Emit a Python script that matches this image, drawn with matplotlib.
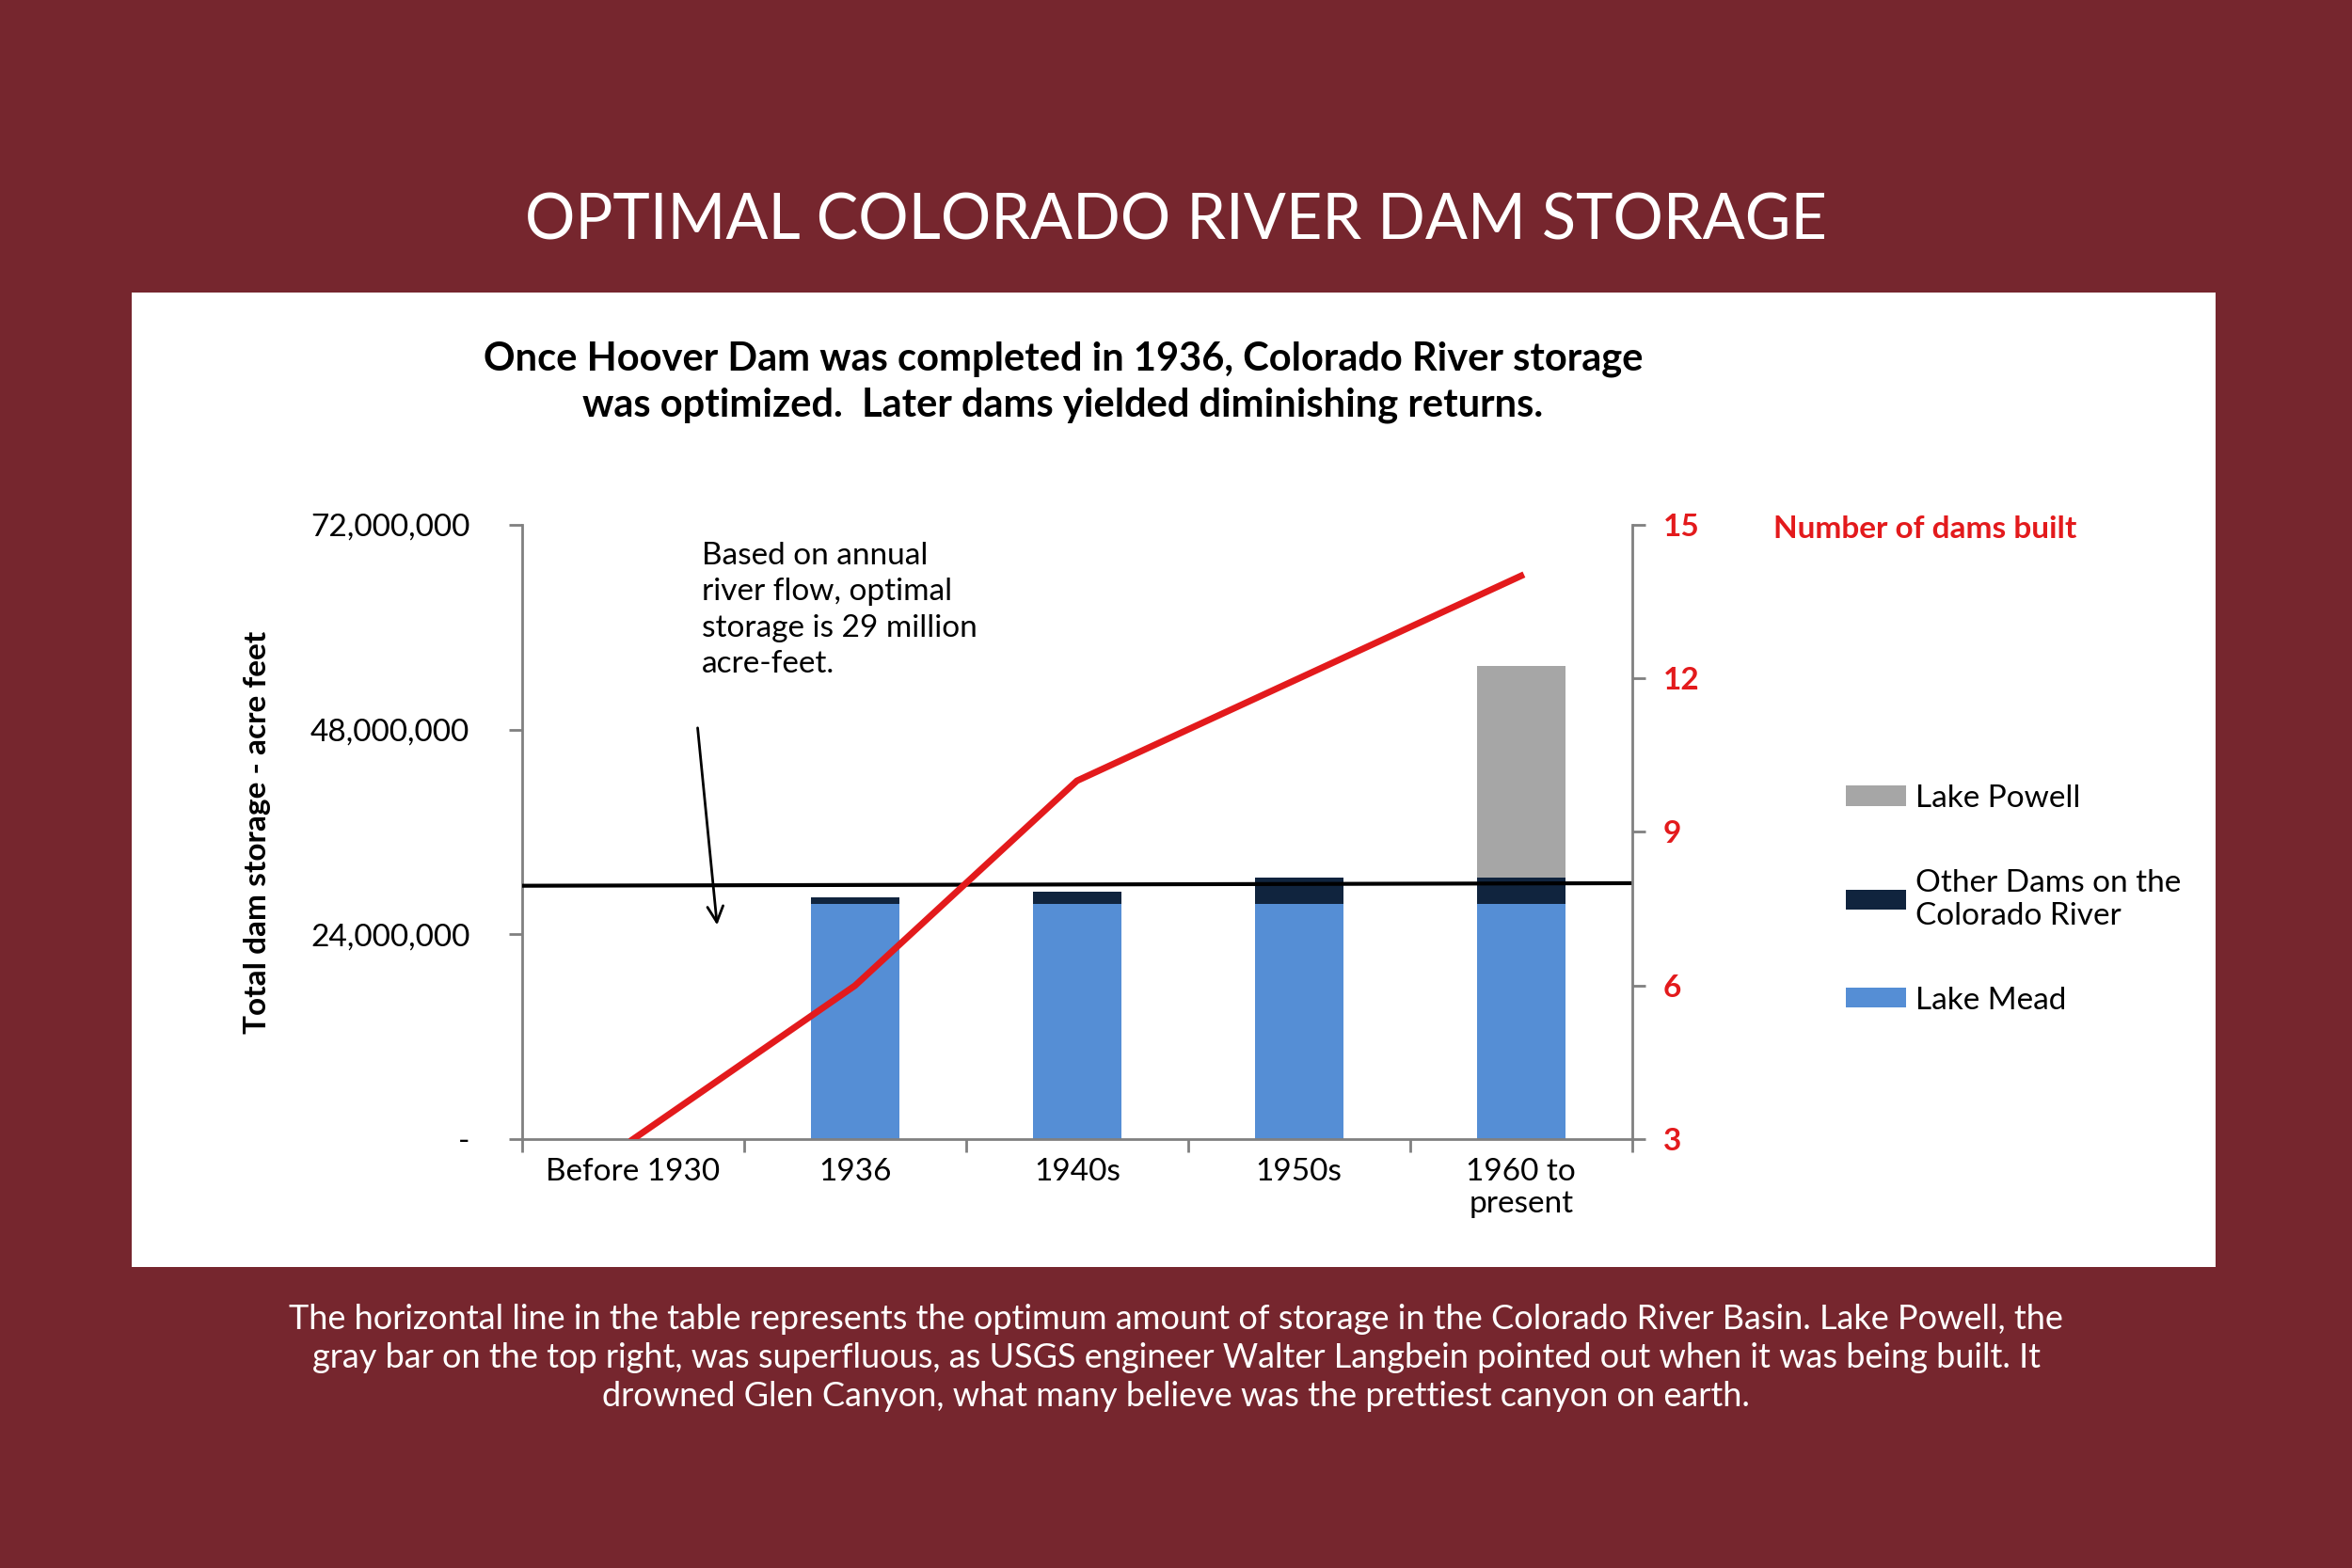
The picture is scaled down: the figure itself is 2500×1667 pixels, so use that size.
import matplotlib.pyplot as plt
from matplotlib.patches import Rectangle
import numpy as np

categories = ['Before 1930', '1936', '1940s', '1950s', '1960 to\npresent']
lake_mead = [0, 27.6e6, 27.6e6, 27.6e6, 27.6e6]
other_dams = [0, 0.7e6, 1.4e6, 3.1e6, 3.1e6]
lake_powell = [0, 0, 0, 0, 24.8e6]
dams_built = [3, 6, 10, 12, 14]
optimal_line = [29.7e6, 30.0e6]

bg = '#76262E'
gray = '#808080'
plt.rcParams['font.family'] = ['Lato', 'DejaVu Sans']

fig = plt.figure(figsize=(25, 16.67), dpi=100, facecolor=bg)
fig.patches.append(Rectangle((88/1568, 1-845/1046), (1477-88)/1568, (845-195)/1046,
                             transform=fig.transFigure, facecolor='white', zorder=-10))

fig.text(0.5, 1-148/1046, 'OPTIMAL COLORADO RIVER DAM STORAGE', color='white',
         fontsize=48, ha='center', va='center')
fig.text(0.452, 1-255/1046, 'Once Hoover Dam was completed in 1936, Colorado River storage\n'
         'was optimized.  Later dams yielded diminishing returns.',
         fontsize=30, fontweight='bold', ha='center', va='center', linespacing=1.35)
fig.text(0.5, 1-906/1046,
         'The horizontal line in the table represents the optimum amount of storage in the Colorado River Basin. Lake Powell, the\n'
         'gray bar on the top right, was superfluous, as USGS engineer Walter Langbein pointed out when it was being built. It\n'
         'drowned Glen Canyon, what many believe was the prettiest canyon on earth.',
         color='white', fontsize=26, ha='center', va='center', linespacing=1.3)

ax = fig.add_axes([348/1568, 1-760/1046, 740/1568, 410/1046])
ax.set_facecolor('none')
x = np.arange(len(categories))
w = 0.4
b1 = ax.bar(x, lake_mead, w, color='#558ED5', zorder=2)
b2 = ax.bar(x, other_dams, w, bottom=lake_mead, color='#10243E', zorder=2)
bot = np.array(lake_mead) + np.array(other_dams)
b3 = ax.bar(x, lake_powell, w, bottom=bot, color='#A6A6A6', zorder=2)
ax.plot([-0.5, 4.5], optimal_line, color='black', lw=3, zorder=3)

ax.set_xlim(-0.5, 4.5)
ax.set_ylim(0, 72e6)
ax.set_yticks([0, 24e6, 48e6, 72e6])
ax.set_yticklabels(['-', '24,000,000', '48,000,000', '72,000,000'])
ax.set_xticks(x)
ax.set_xticklabels(categories)
ax.set_xticks(np.arange(-0.5, 5, 1), minor=True)
ax.tick_params(axis='x', which='major', length=0, pad=14, labelsize=24)
ax.tick_params(axis='x', which='minor', length=10, width=2, color=gray)
ax.tick_params(axis='y', length=10, width=2, color=gray, labelsize=24, pad=30)
for s in ['top', 'right']:
    ax.spines[s].set_visible(False)
for s in ['left', 'bottom']:
    ax.spines[s].set_color(gray)
    ax.spines[s].set_linewidth(2)
ax.set_ylabel('Total dam storage - acre feet', fontsize=24, fontweight='bold', labelpad=30)

ax2 = ax.twinx()
ax2.plot(x, dams_built, color='#E31A1C', lw=5, zorder=4)
ax2.set_ylim(3, 15)
ax2.set_yticks([3, 6, 9, 12, 15])
ax2.tick_params(axis='y', length=10, width=2, color=gray, labelsize=24, labelcolor='#E31A1C', pad=14)
for lab in ax2.get_yticklabels():
    lab.set_fontweight('bold')
for s in ['top', 'left', 'bottom']:
    ax2.spines[s].set_visible(False)
ax2.spines['right'].set_color(gray)
ax2.spines['right'].set_linewidth(2)

fig.text(1182/1568, 1-353/1046, 'Number of dams built', color='#E31A1C', fontsize=24,
         fontweight='bold', va='center')

ax.annotate('', xy=(0.38, 24.8e6), xytext=(0.29, 48.5e6),
            arrowprops=dict(arrowstyle='->', color='black', lw=2, mutation_scale=30))
ax.text(0.31, 70e6, 'Based on annual\nriver flow, optimal\nstorage is 29 million\nacre-feet.',
        fontsize=24, va='top', linespacing=1.35)

fig.legend([b3, b2, b1], ['Lake Powell', 'Other Dams on the\nColorado River', 'Lake Mead'],
           loc='center left', bbox_to_anchor=(1212/1568, 1-600/1046), frameon=False,
           fontsize=24, handlelength=1.9, handleheight=0.6, labelspacing=1.8, handletextpad=0.3)

fig.savefig('out.png', dpi=100, facecolor=bg)
